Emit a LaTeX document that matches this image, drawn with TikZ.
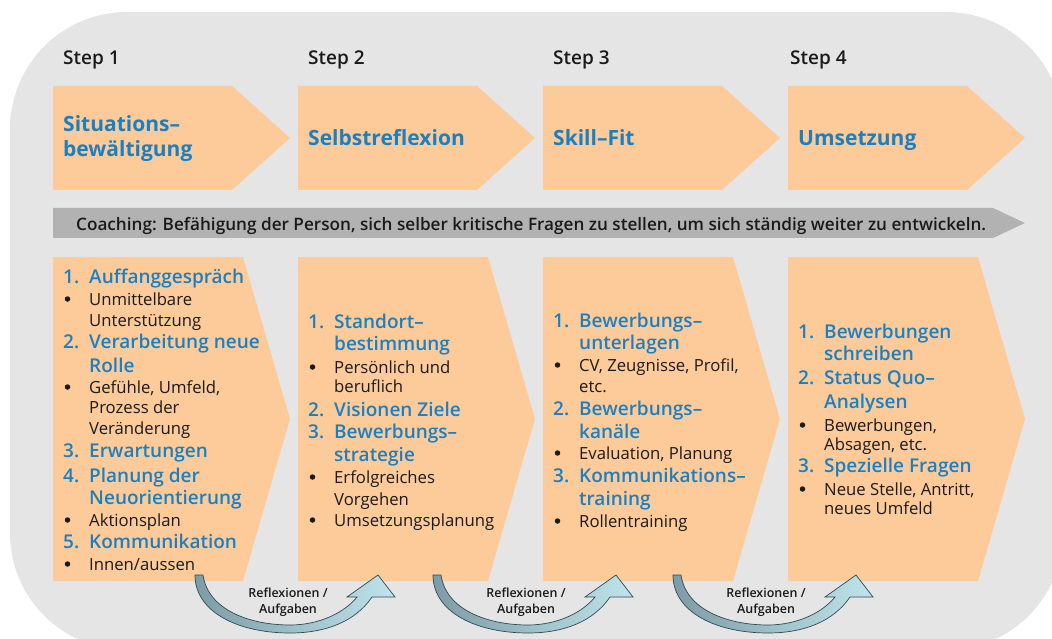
\documentclass[tikz,border=0pt]{standalone}
\usepackage{fontspec}
\setmainfont{Open Sans}
\IfFontExistsTF{Open Sans Semibold}{\newfontfamily\semib{Open Sans Semibold}\newcommand\semiscale{1}}{%
  \IfFontExistsTF{Open Sans SemiBold}{\newfontfamily\semib{Open Sans SemiBold}\newcommand\semiscale{1}}{%
    \newcommand\semib{\bfseries}\newcommand\semiscale{0.97}}}
\definecolor{bgc}{HTML}{E5E5E5}
\definecolor{orng}{HTML}{FDCB99}
\definecolor{barc}{HTML}{B2B2B2}
\definecolor{bluec}{HTML}{1A80C4}
\definecolor{txtc}{HTML}{1A1A1A}
\definecolor{arrdark}{HTML}{7E9CA5}
\definecolor{arrlight}{HTML}{BFE4EB}
\definecolor{arredge}{HTML}{2F4A52}
\newcommand\fsz[1]{\fontsize{#1}{#1}\selectfont}
\newcommand\sfsz[1]{\fontsize{\fpeval{#1*\semiscale}}{#1}\selectfont}
\tikzset{
  steplbl/.style={anchor=base west, inner sep=0, font=\semib\sfsz{19}, text=txtc},
  ttl/.style={anchor=base west, inner sep=0, font=\bfseries\fsz{21}, text=bluec},
  hd/.style={anchor=base west, inner sep=0, font=\semib\sfsz{19}, text=bluec},
  bd/.style={anchor=base west, inner sep=0, font=\fsz{16.7}, text=txtc},
  bul/.style={circle, fill=txtc, inner sep=0, minimum size=5.5pt},
  barlbl/.style={anchor=base west, inner sep=0, font=\semib\sfsz{17.15}, text=txtc},
  refl/.style={anchor=base, inner sep=0, font=\semib\sfsz{12.5}, text=txtc},
  orange shape/.style={fill=orng},
  curved arrow/.style={left color=arrdark, right color=arrlight, draw=arredge, line width=0.7pt},
}
\newcommand\bulat[3]{\node[bul] (#1) at (#2+4.5,#3-6) {};}
\newcommand\curvarr{(195,575) -- (203,575) .. controls (208,610) and (250,625) .. (290,625) .. controls (320,625) and (345,612) .. (357,597) -- (347,597) -- (378,575) -- (395,597) -- (372,597) .. controls (355,622) and (325,633) .. (290,633) .. controls (238,633) and (195,612) .. (195,575) -- cycle}
\begin{document}
\begin{tikzpicture}[x=1pt,y=-1pt]
\useasboundingbox (0,0) rectangle (1052,639);
\clip (0,0) rectangle (1052,639);
\fill[bgc, rounded corners=117pt] (10,12) rectangle (1063,650);

% top step chevrons
\foreach \x in {53,298,543,788}{
  \fill[orange shape] (\x,86) -- (\x+179,86) -- (\x+237,138) -- (\x+179,190) -- (\x,190) -- cycle;
}
% lower boxes
\foreach \x in {53,298,543,788}{
  \fill[orange shape] (\x,257) -- (\x+190,257) -- (\x+237,419) -- (\x+190,581) -- (\x,581) -- cycle;
}
% coaching bar
\fill[barc] (53,208) -- (993,208) -- (1025,223) -- (993,238) -- (53,238) -- cycle;
\node[barlbl] (coach) at (76,230) {Coaching: Befähigung der Person, sich selber kritische Fragen zu stellen, um sich ständig weiter zu entwickeln.};

% step labels
\node[steplbl] (s1) at (63,65) {Step 1};
\node[steplbl] (s2) at (308,65) {Step 2};
\node[steplbl] (s3) at (553,65) {Step 3};
\node[steplbl] (s4) at (790,65) {Step 4};

% titles
\node[ttl] (t1a) at (63,132) {Situations–};
\node[ttl] (t1b) at (63,157) {bewältigung};
\node[ttl] (t2) at (308,146) {Selbstreflexion};
\node[ttl] (t3) at (553,146) {Skill–Fit};
\node[ttl] (t4) at (798,146) {Umsetzung};

% box 1
\node[hd] (b1n1) at (63,283) {1.};
\node[hd] (b1h1) at (89,283) {Auffanggespräch};
\bulat{b1d1}{63}{305}
\node[bd] (b1t1) at (89,305) {Unmittelbare};
\node[bd] (b1t2) at (89,326) {Unterstützung};
\node[hd] (b1n2) at (63,348) {2.};
\node[hd] (b1h2) at (89,348) {Verarbeitung neue};
\node[hd] (b1h2b) at (89,372) {Rolle};
\bulat{b1d2}{63}{393}
\node[bd] (b1t3) at (89,393) {Gefühle, Umfeld,};
\node[bd] (b1t4) at (89,413) {Prozess der};
\node[bd] (b1t5) at (89,434) {Veränderung};
\node[hd] (b1n3) at (63,457) {3.};
\node[hd] (b1h3) at (89,457) {Erwartungen};
\node[hd] (b1n4) at (63,482) {4.};
\node[hd] (b1h4) at (89,482) {Planung der};
\node[hd] (b1h4b) at (89,504) {Neuorientierung};
\bulat{b1d3}{63}{526}
\node[bd] (b1t6) at (89,526) {Aktionsplan};
\node[hd] (b1n5) at (63,548) {5.};
\node[hd] (b1h5) at (89,548) {Kommunikation};
\bulat{b1d4}{63}{570}
\node[bd] (b1t7) at (89,570) {Innen/aussen};

% box 2
\node[hd] (b2n1) at (308,328) {1.};
\node[hd] (b2h1) at (334,328) {Standort–};
\node[hd] (b2h1b) at (334,350) {bestimmung};
\bulat{b2d1}{308}{373}
\node[bd] (b2t1) at (334,373) {Persönlich und};
\node[bd] (b2t2) at (334,392) {beruflich};
\node[hd] (b2n2) at (308,416) {2.};
\node[hd] (b2h2) at (334,416) {Visionen Ziele};
\node[hd] (b2n3) at (308,438) {3.};
\node[hd] (b2h3) at (334,438) {Bewerbungs–};
\node[hd] (b2h3b) at (334,461) {strategie};
\bulat{b2d2}{308}{483}
\node[bd] (b2t3) at (334,483) {Erfolgreiches};
\node[bd] (b2t4) at (334,505) {Vorgehen};
\bulat{b2d3}{308}{526}
\node[bd] (b2t5) at (334,526) {Umsetzungsplanung};

% box 3
\node[hd] (b3n1) at (553,327) {1.};
\node[hd] (b3h1) at (579,327) {Bewerbungs–};
\node[hd] (b3h1b) at (579,349) {unterlagen};
\bulat{b3d1}{553}{371}
\node[bd] (b3t1) at (579,371) {CV, Zeugnisse, Profil,};
\node[bd] (b3t2) at (579,392) {etc.};
\node[hd] (b3n2) at (553,415) {2.};
\node[hd] (b3h2) at (579,415) {Bewerbungs–};
\node[hd] (b3h2b) at (579,438) {kanäle};
\bulat{b3d2}{553}{459}
\node[bd] (b3t3) at (579,459) {Evaluation, Planung};
\node[hd] (b3n3) at (553,482) {3.};
\node[hd] (b3h3) at (579,482) {Kommunikations–};
\node[hd] (b3h3b) at (579,505) {training};
\bulat{b3d3}{553}{527}
\node[bd] (b3t4) at (579,527) {Rollentraining};

% box 4
\node[hd] (b4n1) at (798,338) {1.};
\node[hd] (b4h1) at (824,338) {Bewerbungen};
\node[hd] (b4h1b) at (824,360) {schreiben};
\node[hd] (b4n2) at (798,384) {2.};
\node[hd] (b4h2) at (824,384) {Status Quo–};
\node[hd] (b4h2b) at (824,408) {Analysen};
\bulat{b4d1}{798}{431}
\node[bd] (b4t1) at (824,431) {Bewerbungen,};
\node[bd] (b4t2) at (824,450) {Absagen, etc.};
\node[hd] (b4n3) at (798,472) {3.};
\node[hd] (b4h3) at (824,472) {Spezielle Fragen};
\bulat{b4d2}{798}{495}
\node[bd] (b4t3) at (824,495) {Neue Stelle, Antritt,};
\node[bd] (b4t4) at (824,514) {neues Umfeld};

% curved reflection arrows
\foreach \s/\i in {0/1,238/2,478/3}{
  \begin{scope}[xshift=\s pt]
    \draw[curved arrow] \curvarr;
    \node[refl] (r\i a) at (288,597) {Reflexionen /};
    \node[refl] (r\i b) at (288,613) {Aufgaben};
  \end{scope}
}
\end{tikzpicture}
\end{document}
